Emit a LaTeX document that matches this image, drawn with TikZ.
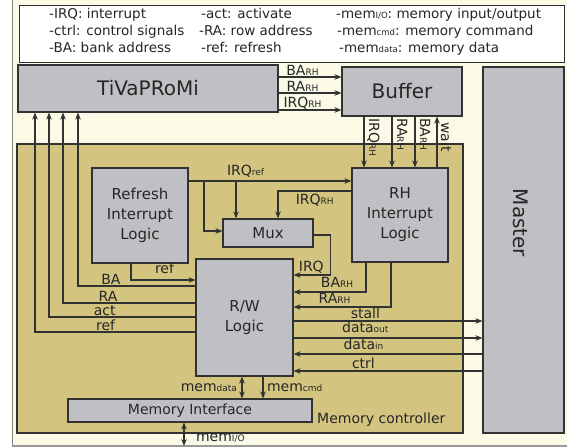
\documentclass[tikz,border=0pt]{standalone}
\usepackage{fontspec}
\setmainfont{DejaVu Sans}
\usepackage{xcolor}
\usetikzlibrary{arrows.meta}

\definecolor{bgcream}{RGB}{250,250,230}
\definecolor{mctan}{RGB}{211,197,128}
\definecolor{blkgray}{RGB}{192,192,196}
\definecolor{linegray}{RGB}{50,50,50}

% small subscript-like text used in the labels
\newcommand{\lo}[1]{{\fontsize{9}{9}\selectfont #1}}
\newcommand{\lgd}[1]{{\fontsize{8.5}{8.5}\selectfont #1}}

\begin{document}
\begin{tikzpicture}[x=1pt, y=-1pt, font=\fontsize{14}{17}\selectfont, every node/.style={inner sep=1pt, text=black!85}]
        \tikzset{
            blk/.style={draw=linegray, fill=blkgray, line width=1.1pt, align=center, inner sep=0pt, font=\fontsize{15}{20}\selectfont},
            big/.style={font=\fontsize{20}{24}\selectfont},
            lbl/.style={inner sep=0.5pt},
            legend/.style={anchor=base west, inner sep=0pt, font=\fontsize{13.5}{16}\selectfont},
            arr/.style={-{Stealth[length=7pt,width=5.5pt]}, line width=1.1pt, draw=linegray},
            darr/.style={{Stealth[length=7pt,width=5.5pt]}-{Stealth[length=7pt,width=5.5pt]}, line width=1.1pt, draw=linegray}
        }

        \useasboundingbox (0,0) rectangle (567,447);
        \fill[bgcream] (12,-2) rectangle (570,445);
        \draw[gray, line width=0.8pt] (12,-2) -- (12,445);
        \draw[gray!80, line width=2pt] (12,446) -- (570,446);

        % legend
        \node[draw=linegray, fill=white, line width=1pt, minimum width=545, minimum height=57, inner sep=0pt] (legendbox) at (291.5,33.5) {};
        \node[legend] (lgirq) at (49,18) {-IRQ: interrupt};
        \node[legend] (lgctrl) at (49,35) {-ctrl: control signals};
        \node[legend] (lgba) at (49,52) {-BA: bank address};
        \node[legend] (lgact) at (201,18) {-act: activate};
        \node[legend] (lgra) at (199,35) {-RA: row address};
        \node[legend] (lgref) at (201,52) {-ref: refresh};
        \node[legend] (lgio) at (336,18) {-mem\lgd{I/O}: memory input/output};
        \node[legend] (lgcmd) at (337,35) {-mem\lgd{cmd}: memory command};
        \node[legend] (lgdata) at (339,52) {-mem\lgd{data}: memory data};

        \node[blk, big, minimum width=260, minimum height=47] (tiva) at (148,88.5) {TiVaPRoMi};
        \node[blk, big, minimum width=120, minimum height=49] (buffer) at (402,91.5) {Buffer};
        \node[blk, minimum width=81, minimum height=366] (master) at (523.5,250) {};
        \node[big, rotate=-90] (mastertxt) at (521,223) {Master};

        \node[draw=linegray, fill=mctan, line width=1.1pt, minimum width=446, minimum height=289, inner sep=0pt] (mc) at (240,288.5) {};
        \node[anchor=base west, inner sep=0pt] (mclbl) at (317,423) {Memory controller};

        \node[blk, minimum width=96, minimum height=95] (refresh) at (140,215.5) {Refresh\\Interrupt\\Logic};
        \node[blk, minimum width=96, minimum height=94] (rh) at (400,215) {RH\\Interrupt\\Logic};
        \node[blk, minimum width=90, minimum height=28] (mux) at (268,233) {Mux};
        \node[blk, minimum width=97, minimum height=117] (rw) at (244.5,317.5) {R/W\\Logic};
        \node[blk, font=\fontsize{14}{17}\selectfont, minimum width=244, minimum height=23] (memif) at (190,410.5) {Memory Interface};

        \coordinate (brmux) at (204,181);
        \coordinate (brtop) at (236,181);
        \coordinate (memio) at (184,446);

        \draw[arr] (tiva.east |- 0,77) -- node[lbl, above, pos=0.38] {BA\lo{RH}} (buffer.west |- 0,77);
        \draw[arr] (tiva.east |- 0,93) -- node[lbl, above, pos=0.38] {RA\lo{RH}} (buffer.west |- 0,93);
        \draw[arr] (tiva.east |- 0,110) -- node[lbl, above, pos=0.38] {IRQ\lo{RH}} (buffer.west |- 0,110);

        \draw[arr] (buffer.south -| 364,0) -- (rh.north -| 364,0);
        \draw[arr] (buffer.south -| 392,0) -- (rh.north -| 392,0);
        \draw[arr] (buffer.south -| 415,0) -- (rh.north -| 415,0);
        \draw[arr] (rh.north -| 437,0) -- (buffer.south -| 437,0);
        \node[rotate=-90, anchor=base west, inner sep=0pt] (lbirq) at (369,118) {IRQ\lo{RH}};
        \node[rotate=-90, anchor=base west, inner sep=0pt] (lbra) at (397,118) {RA\lo{RH}};
        \node[rotate=-90, anchor=base west, inner sep=0pt] (lbba) at (420,118) {BA\lo{RH}};
        \node[rotate=-90, anchor=base west, inner sep=0pt] (lbwait) at (441,122) {wait};

        \draw[arr] (refresh.east |- 0,181) -- node[lbl, above=3pt, pos=0.35] {IRQ\lo{ref}} (rh.west |- 0,181);
        \draw[arr] (brmux) |- (mux.west |- 0,231);
        \draw[arr] (brtop) -- (mux.north -| 236,0);
        \draw[arr] (rh.west |- 0,191) -| node[lbl, below=2pt, pos=0.25] {IRQ\lo{RH}} (mux.north -| 278,0);
        \draw[arr] (mux.east |- 0,235) -- ++(17,0) |- node[lbl, above=1pt, pos=0.76] {IRQ} (rw.east |- 0,275);

        \draw[arr] (rh.south -| 366,0) |- node[lbl, above=3pt, pos=0.7] {BA\lo{RH}} (rw.east |- 0,292);
        \draw[arr] (rh.south -| 391,0) |- node[lbl, above=2.5pt, pos=0.79] {RA\lo{RH}} (rw.east |- 0,307);
        \draw[arr] (refresh.south -| 131,0) |- node[lbl, above=5pt, pos=0.76] {ref} (rw.west |- 0,280);

        \draw[arr] (rw.west |- 0,286) -| node[lbl, above, pos=0.36] {BA} (tiva.south -| 78,0);
        \draw[arr] (rw.west |- 0,303) -| node[lbl, above, pos=0.33] {RA} (tiva.south -| 63,0);
        \draw[arr] (rw.west |- 0,317) -| node[lbl, above, pos=0.31] {act} (tiva.south -| 49,0);
        \draw[arr] (rw.west |- 0,332) -| node[lbl, above, pos=0.28] {ref} (tiva.south -| 35,0);

        \draw[arr] (rw.east |- 0,321) -- node[lbl, above=1pt, pos=0.38] {stall} (master.west |- 0,321);
        \draw[arr] (rw.east |- 0,338) -- node[lbl, above=4pt, pos=0.38] {data\lo{out}} (master.west |- 0,338);
        \draw[arr] (master.west |- 0,354) -- node[lbl, above=3.5pt, pos=0.63] {data\lo{in}} (rw.east |- 0,354);
        \draw[arr] (master.west |- 0,371) -- node[lbl, above=1.5pt, pos=0.63] {ctrl} (rw.east |- 0,371);

        \draw[darr] (rw.south -| 242,0) -- node[lbl, left=4pt] {mem\lo{data}} (memif.north -| 242,0);
        \draw[arr] (rw.south -| 263,0) -- node[lbl, right=3pt] {mem\lo{cmd}} (memif.north -| 263,0);
        \draw[darr] (memif.south -| 184,0) -- node[lbl, right=11pt, pos=0.65] {mem\lo{I/O}} (memio);
    \end{tikzpicture}
\end{document}
